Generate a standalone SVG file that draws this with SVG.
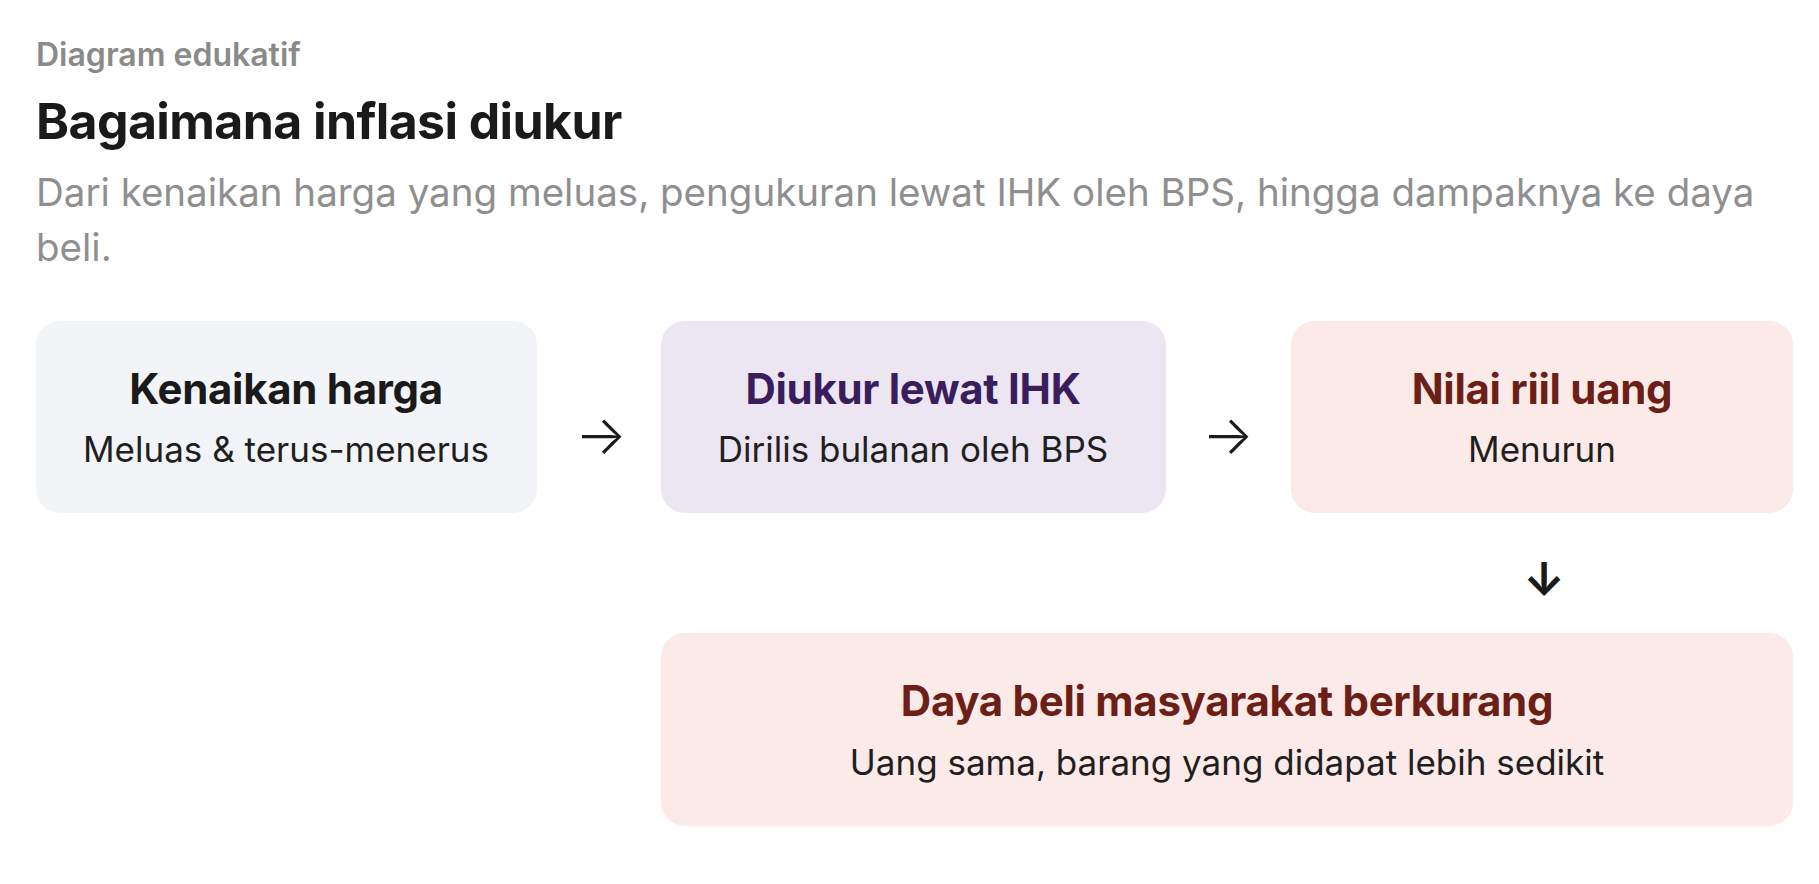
<svg xmlns="http://www.w3.org/2000/svg" width="1819" height="884" viewBox="0 0 1819 884">
<style>
text{font-family:Inter,"Noto Sans","Liberation Sans",sans-serif}
.eyebrow{font-size:32px;font-weight:600;fill:#8a8a8a;letter-spacing:0px}
.title{font-size:50px;font-weight:700;fill:#1a1a1a;letter-spacing:-0.6px}
.lede{font-size:38.5px;font-weight:400;fill:#8f8f8f}
.nt{font-size:42px;font-weight:700;text-anchor:middle;letter-spacing:-0.3px}
.ns{font-size:35px;font-weight:400;text-anchor:middle;fill:#1f1f1f}
.arrow{font-size:54px;font-weight:300;fill:#1a1a1a;text-anchor:middle}
.darrow{font-size:46px;font-weight:700;fill:#1a1a1a;text-anchor:middle}
.grey{fill:#f3f4f7}.purple{fill:#ebe6f1}.rose{fill:#fbeae8}
</style>
<rect width="1819" height="884" fill="#ffffff"/>
<text class="eyebrow" x="36" y="66">Diagram edukatif</text>
<text class="title" x="36" y="139">Bagaimana inflasi diukur</text>
<text class="lede" x="36" y="206">Dari kenaikan harga yang meluas, pengukuran lewat IHK oleh BPS, hingga dampaknya ke daya</text>
<text class="lede" x="36" y="261">beli.</text>
<g id="connectors">
<text class="arrow" x="601" y="454">→</text>
<text class="arrow" x="1228" y="454">→</text>
<text class="darrow" x="1544" y="596">↓</text>
</g>
<g id="node-kenaikan">
<rect class="grey" x="36" y="321" width="501" height="192" rx="24"/>
<text class="nt" x="286" y="404" fill="#1a1a1a">Kenaikan harga</text>
<text class="ns" x="286" y="462">Meluas &amp; terus-menerus</text>
</g>
<g id="node-ihk">
<rect class="purple" x="661" y="321" width="505" height="192" rx="24"/>
<text class="nt" x="913" y="404" fill="#3a1d5c">Diukur lewat IHK</text>
<text class="ns" x="913" y="462">Dirilis bulanan oleh BPS</text>
</g>
<g id="node-nilai">
<rect class="rose" x="1291" y="321" width="502" height="192" rx="24"/>
<text class="nt" x="1542" y="404" fill="#6b1f17">Nilai riil uang</text>
<text class="ns" x="1542" y="462">Menurun</text>
</g>
<g id="node-daya">
<rect class="rose" x="661" y="633" width="1132" height="193" rx="24"/>
<text class="nt" x="1227" y="716" fill="#6b1f17">Daya beli masyarakat berkurang</text>
<text class="ns" x="1227" y="775">Uang sama, barang yang didapat lebih sedikit</text>
</g>
</svg>
